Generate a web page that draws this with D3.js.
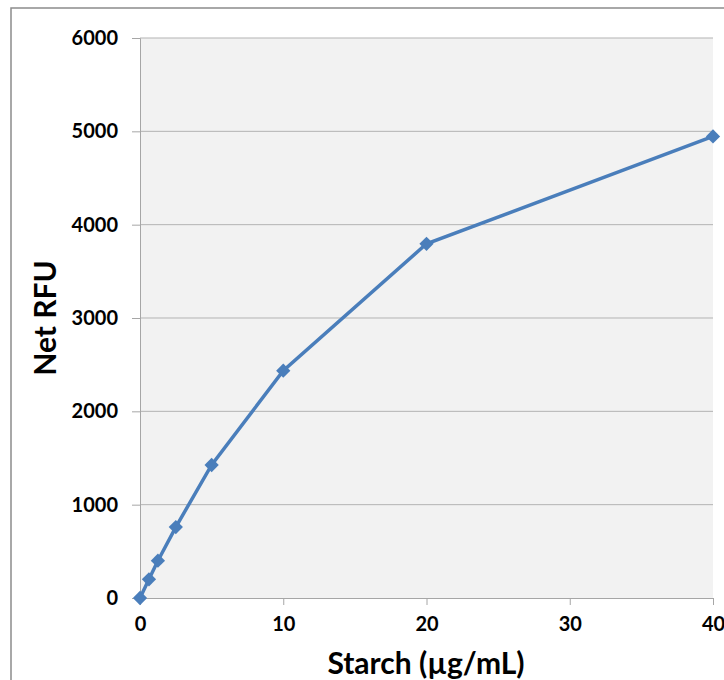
<!DOCTYPE html>
<html lang="en">
<head>
<meta charset="utf-8">
<title>Net RFU vs Starch</title>
<style>
  body { margin: 0; background: #fff; }
  svg text { font-family: Lato, "Open Sans", sans-serif; font-weight: bold; fill: #000; }
</style>
</head>
<body>
<svg id="chart" width="724" height="680"></svg>
<script src="https://d3js.org/d3.v7.min.js"></script>
<script>
// data
var starch = [0, 0.625, 1.25, 2.5, 5, 10, 20, 40];
var rfu = [0, 200, 400, 760, 1425, 2435, 3795, 4945];
var xTicks = [0, 10, 20, 30, 40];
var yTicks = [0, 1000, 2000, 3000, 4000, 5000, 6000];

var svg = d3.select("#chart");
var plotL = 140, plotT = 38, plotR = 713, plotB = 598;

// outer chart border (runs off the right/bottom of the picture)
svg.append("rect")
    .attr("x", 11).attr("y", 8)
    .attr("width", 760).attr("height", 720)
    .attr("fill", "none").attr("stroke", "#8c8c8c").attr("stroke-width", 1.5);

var x = d3.scaleLinear().domain([0, 40]).range([plotL, plotR]);
var y = d3.scaleLinear().domain([0, 6000]).range([plotB, plotT]);

svg.append("rect")
    .attr("x", plotL).attr("y", plotT)
    .attr("width", plotR - plotL).attr("height", plotB - plotT)
    .attr("fill", "#f2f2f2");

// gridlines
svg.append("g").selectAll("line")
    .data(yTicks.filter(function(d) { return d > 0; }))
    .enter().append("line")
    .attr("x1", plotL).attr("x2", plotR)
    .attr("y1", function(d) { return y(d); }).attr("y2", function(d) { return y(d); })
    .attr("stroke", "#b3b3b3").attr("stroke-width", 1);

var yAxis = svg.append("g")
    .attr("transform", "translate(" + plotL + ",0)")
    .call(d3.axisLeft(y).tickValues(yTicks).tickFormat(d3.format("d")).tickSize(8).tickPadding(14));
var xAxis = svg.append("g")
    .attr("transform", "translate(0," + plotB + ")")
    .call(d3.axisBottom(x).tickValues(xTicks).tickSize(7).tickPadding(12));

[xAxis, yAxis].forEach(function(a) {
  a.select(".domain").attr("stroke", "#a6a6a6");
  a.selectAll(".tick line").attr("stroke", "#a6a6a6");
  a.selectAll("text").style("font-size", "20px");
});

var line = d3.line()
    .x(function(d, i) { return x(starch[i]); })
    .y(function(d) { return y(d); });

svg.append("path")
    .datum(rfu)
    .attr("d", line)
    .attr("fill", "none")
    .attr("stroke", "#4a7ebb")
    .attr("stroke-width", 3.5);

svg.append("g").selectAll("path")
    .data(rfu)
    .enter().append("path")
    .attr("d", d3.symbol().type(d3.symbolDiamond2).size(130))
    .attr("transform", function(d, i) { return "translate(" + x(starch[i]) + "," + y(d) + ")"; })
    .attr("fill", "#4a7ebb");

svg.append("text")
    .attr("x", 426).attr("y", 674)
    .attr("text-anchor", "middle")
    .style("font-size", "30px")
    .text("Starch (µg/mL)");

svg.append("text")
    .attr("transform", "translate(56,318) rotate(-90)")
    .attr("text-anchor", "middle")
    .style("font-size", "30px")
    .text("Net RFU");
</script>
</body>
</html>
